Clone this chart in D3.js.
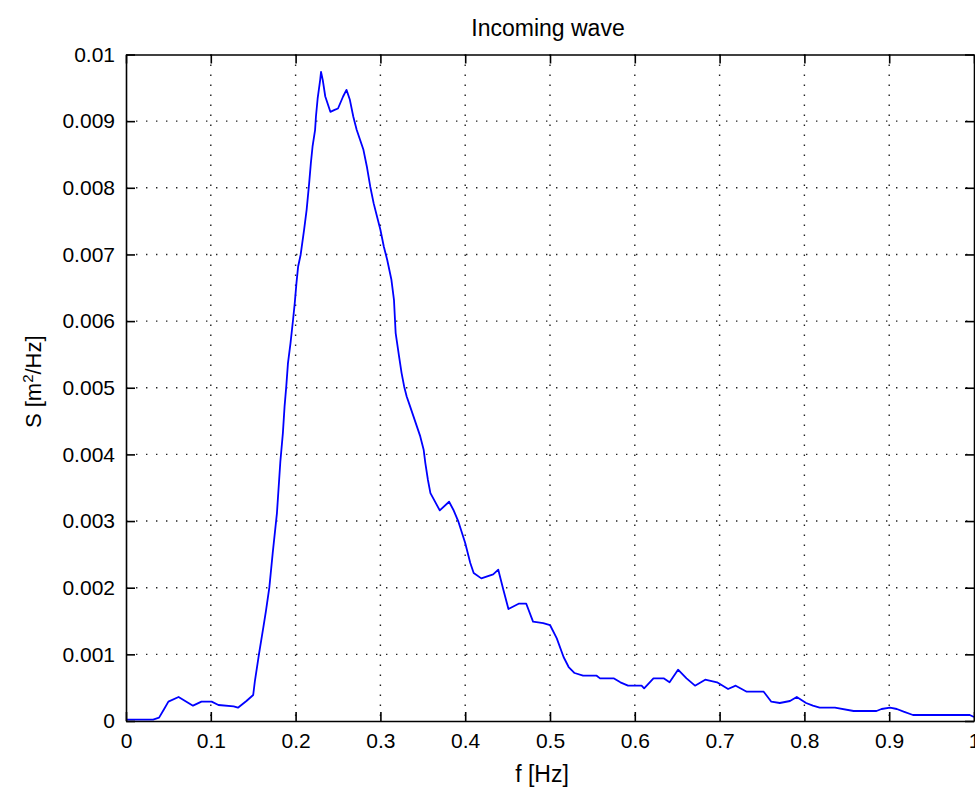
<!DOCTYPE html>
<html>
<head>
<meta charset="utf-8">
<script src="https://cdn.jsdelivr.net/npm/d3@7"></script>
<style>
  html, body { margin: 0; padding: 0; background: #fff; }
  svg { display: block; }
  text { font-family: "Liberation Sans", Arial, sans-serif; fill: #000; }
</style>
</head>
<body>
<svg id="chart" width="975" height="787"></svg>
<script>
// ---- Data ----
const freq = [0, 0.032, 0.039, 0.045, 0.050, 0.062, 0.079, 0.089, 0.101, 0.109, 0.127, 0.132, 0.142, 0.150,
  0.152, 0.157, 0.162, 0.165, 0.169, 0.173, 0.178, 0.182, 0.185, 0.187, 0.189, 0.191, 0.194, 0.197, 0.199,
  0.201, 0.203, 0.206, 0.210, 0.213, 0.216, 0.218, 0.220, 0.223, 0.224, 0.226, 0.229, 0.230, 0.232, 0.235,
  0.241, 0.246, 0.250, 0.256, 0.260, 0.264, 0.268, 0.272, 0.276, 0.280, 0.284, 0.288, 0.292, 0.296, 0.300,
  0.304, 0.308, 0.313, 0.316, 0.318, 0.322, 0.325, 0.328, 0.331, 0.335, 0.339, 0.343, 0.347, 0.351, 0.353,
  0.356, 0.359, 0.370, 0.381, 0.386, 0.392, 0.400, 0.406, 0.410, 0.419, 0.433, 0.439, 0.445, 0.451, 0.463,
  0.472, 0.480, 0.492, 0.500, 0.508, 0.516, 0.522, 0.529, 0.539, 0.555, 0.559, 0.575, 0.583, 0.592, 0.608,
  0.611, 0.622, 0.634, 0.641, 0.651, 0.661, 0.671, 0.683, 0.697, 0.710, 0.719, 0.732, 0.752, 0.761, 0.771,
  0.783, 0.791, 0.802, 0.810, 0.818, 0.836, 0.858, 0.885, 0.891, 0.901, 0.909, 0.917, 0.928, 0.995, 1.0];
const spectrum = [0.00002, 0.00002, 0.00005, 0.00018, 0.00029, 0.00036, 0.00023, 0.00029, 0.00029, 0.00024, 0.00022, 0.00020, 0.00030, 0.00039,
  0.00060, 0.00102, 0.00141, 0.00165, 0.00200, 0.00252, 0.00312, 0.00389, 0.00432, 0.00472, 0.00502, 0.00537, 0.00567, 0.00602, 0.00627,
  0.00657, 0.00682, 0.00700, 0.00737, 0.00767, 0.00807, 0.00837, 0.00862, 0.00887, 0.00907, 0.00934, 0.00962, 0.00974, 0.00962, 0.00937,
  0.00914, 0.00917, 0.00919, 0.00937, 0.00947, 0.00932, 0.00907, 0.00887, 0.00872, 0.00857, 0.00832, 0.00802, 0.00777, 0.00757, 0.00737,
  0.00712, 0.00692, 0.00662, 0.00632, 0.00582, 0.00547, 0.00522, 0.00502, 0.00487, 0.00472, 0.00457, 0.00442, 0.00427, 0.00407, 0.00387,
  0.00362, 0.00342, 0.00316, 0.00329, 0.00317, 0.00299, 0.00267, 0.00237, 0.00222, 0.00214, 0.00220, 0.00227, 0.00197, 0.00168, 0.00176,
  0.00176, 0.00149, 0.00147, 0.00144, 0.00124, 0.00096, 0.00081, 0.00072, 0.00068, 0.00068, 0.00064, 0.00064, 0.00058, 0.00053, 0.00053,
  0.00049, 0.00064, 0.00064, 0.00058, 0.00077, 0.00064, 0.00053, 0.00062, 0.00058, 0.00048, 0.00053, 0.00044, 0.00044, 0.00029, 0.00027,
  0.00030, 0.00036, 0.00027, 0.00023, 0.00020, 0.00020, 0.00015, 0.00015, 0.00018, 0.00020, 0.00018, 0.00014, 0.00009, 0.00009, 0.00006];
const xTicks = [0, 0.1, 0.2, 0.3, 0.4, 0.5, 0.6, 0.7, 0.8, 0.9, 1];
const yTicks = [0, 0.001, 0.002, 0.003, 0.004, 0.005, 0.006, 0.007, 0.008, 0.009, 0.01];
const titleText = "Incoming wave";
const xLabel = "f [Hz]";

// ---- Layout ----
const svg = d3.select("#chart");
const L = 126, R = 974, T = 54.5, B = 721;
const x = d3.scaleLinear().domain([0, 1]).range([L, R]);
const y = d3.scaleLinear().domain([0, 0.01]).range([B, T]);
const fmt = d => String(+d.toFixed(4));
const FS = 21;

// grid
const grid = svg.append("g").attr("stroke", "#222").attr("stroke-width", 1.4)
  .attr("stroke-dasharray", "1.4,8.6");
grid.selectAll(".gx").data(xTicks.slice(1, -1)).join("line")
  .attr("x1", d => x(d)).attr("x2", d => x(d)).attr("y1", T).attr("y2", B);
grid.selectAll(".gy").data(yTicks.slice(1, -1)).join("line")
  .attr("x1", L).attr("x2", R).attr("y1", d => y(d)).attr("y2", d => y(d));

// spectrum line
svg.append("path")
  .datum(freq.map((f, i) => [f, spectrum[i]]))
  .attr("fill", "none").attr("stroke", "#0000ff").attr("stroke-width", 1.8)
  .attr("stroke-linejoin", "round")
  .attr("d", d3.line().x(d => x(d[0])).y(d => y(d[1])));

// axes
function styleAxis(g) {
  g.selectAll("path,line").attr("stroke", "#000").attr("stroke-width", 1.6);
  g.selectAll("text").attr("font-size", FS).attr("font-family", "Liberation Sans, Arial, sans-serif").attr("fill", "#000");
}
svg.append("g").attr("transform", `translate(0,${B})`)
  .call(d3.axisBottom(x).tickValues(xTicks).tickFormat(fmt).tickSizeInner(-9).tickSizeOuter(0).tickPadding(12))
  .call(styleAxis);
svg.append("g").attr("transform", `translate(0,${T})`)
  .call(d3.axisTop(x).tickValues(xTicks).tickFormat("").tickSizeInner(-9).tickSizeOuter(0))
  .call(styleAxis);
svg.append("g").attr("transform", `translate(${L},0)`)
  .call(d3.axisLeft(y).tickValues(yTicks).tickFormat(fmt).tickSizeInner(-9).tickSizeOuter(0).tickPadding(11))
  .call(styleAxis);
svg.append("g").attr("transform", `translate(${R},0)`)
  .call(d3.axisRight(y).tickValues(yTicks).tickFormat("").tickSizeInner(-9).tickSizeOuter(0))
  .call(styleAxis);

// title
svg.append("text").attr("x", (L + R) / 2 - 2).attr("y", 36)
  .attr("text-anchor", "middle").attr("font-size", 23).text(titleText);
// x label
svg.append("text").attr("x", (L + R) / 2 - 8).attr("y", 782)
  .attr("text-anchor", "middle").attr("font-size", 23).text(xLabel);
// y label
const yl = svg.append("text").attr("transform", `translate(41,${(T + B) / 2 - 6}) rotate(-90)`)
  .attr("text-anchor", "middle").attr("font-size", 22);
yl.append("tspan").text("S [m");
yl.append("tspan").attr("baseline-shift", "super").attr("font-size", 15).text("2");
yl.append("tspan").text("/Hz]");
</script>
</body>
</html>
